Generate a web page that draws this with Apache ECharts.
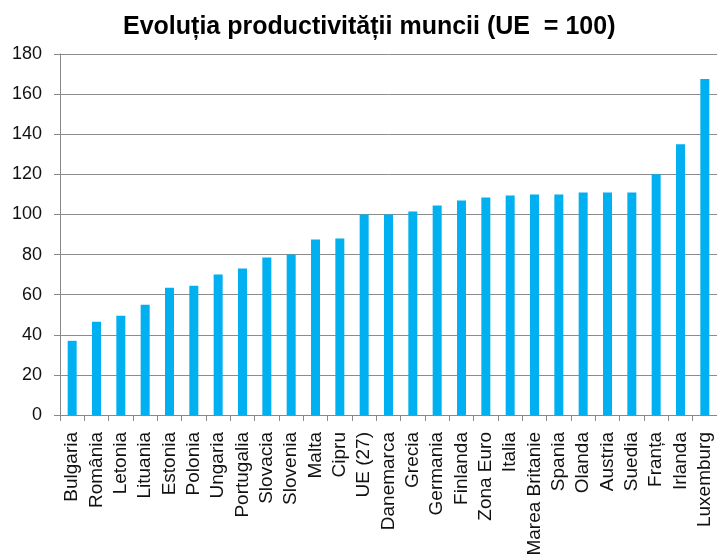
<!DOCTYPE html>
<html>
<head>
<meta charset="utf-8">
<script src="https://cdn.jsdelivr.net/npm/echarts@6/dist/echarts.min.js"></script>
<style>
  html, body { margin: 0; padding: 0; background: #fff; }
  #chart { width: 717px; height: 556px; }
</style>
</head>
<body>
<div id="chart"></div>
<script>
// tari, in ordinea din grafic
var tari = ['Bulgaria', 'România', 'Letonia', 'Lituania', 'Estonia', 'Polonia', 'Ungaria',
  'Portugalia', 'Slovacia', 'Slovenia', 'Malta', 'Cipru', 'UE (27)', 'Danemarca', 'Grecia',
  'Germania', 'Finlanda', 'Zona Euro', 'Italia', 'Marea Britanie', 'Spania', 'Olanda',
  'Austria', 'Suedia', 'Franța', 'Irlanda', 'Luxemburg']
var productivitate = [37, 46.5, 49.5, 55, 63.5, 64.5, 70, 73, 78.5, 80, 87.5, 88,
  100, 100, 101.5, 104.5, 107, 108.5, 109.5, 110, 110, 111, 111, 111, 120, 135, 167.5]
var yMin = 0
var yMax = 180
var yPas = 20

var chart = echarts.init(document.getElementById('chart'))
chart.setOption({
  animation: false,
  title: {
    text: 'Evoluția productivității muncii (UE  = 100)',
    left: 118,
    top: 10,
    textStyle: { fontFamily: 'Liberation Sans', fontSize: 25, fontWeight: 'bold', color: '#000' }
  },
  grid: { left: 60, right: 0, top: 54, bottom: 141, outerBoundsMode: 'none' },
  xAxis: {
    type: 'category',
    data: tari,
    axisLine: { lineStyle: { color: '#888', width: 1 } },
    axisTick: { show: true, length: 6, lineStyle: { color: '#888' } },
    axisLabel: {
      rotate: 90,
      interval: 0,
      margin: 17,
      fontFamily: 'Liberation Sans',
      fontSize: 19,
      color: '#111'
    }
  },
  yAxis: {
    type: 'value',
    min: yMin,
    max: yMax,
    interval: yPas,
    axisLine: { show: true, lineStyle: { color: '#888', width: 1 } },
    axisTick: { show: true, length: 6, lineStyle: { color: '#888' } },
    splitLine: { lineStyle: { color: '#8c8c8c', width: 1 } },
    axisLabel: {
      margin: 18,
      fontFamily: 'Liberation Sans',
      fontSize: 18,
      color: '#111'
    }
  },
  series: [{
    type: 'bar',
    data: productivitate,
    barWidth: 9,
    itemStyle: { color: '#00b0f0' }
  }]
})
</script>
</body>
</html>
